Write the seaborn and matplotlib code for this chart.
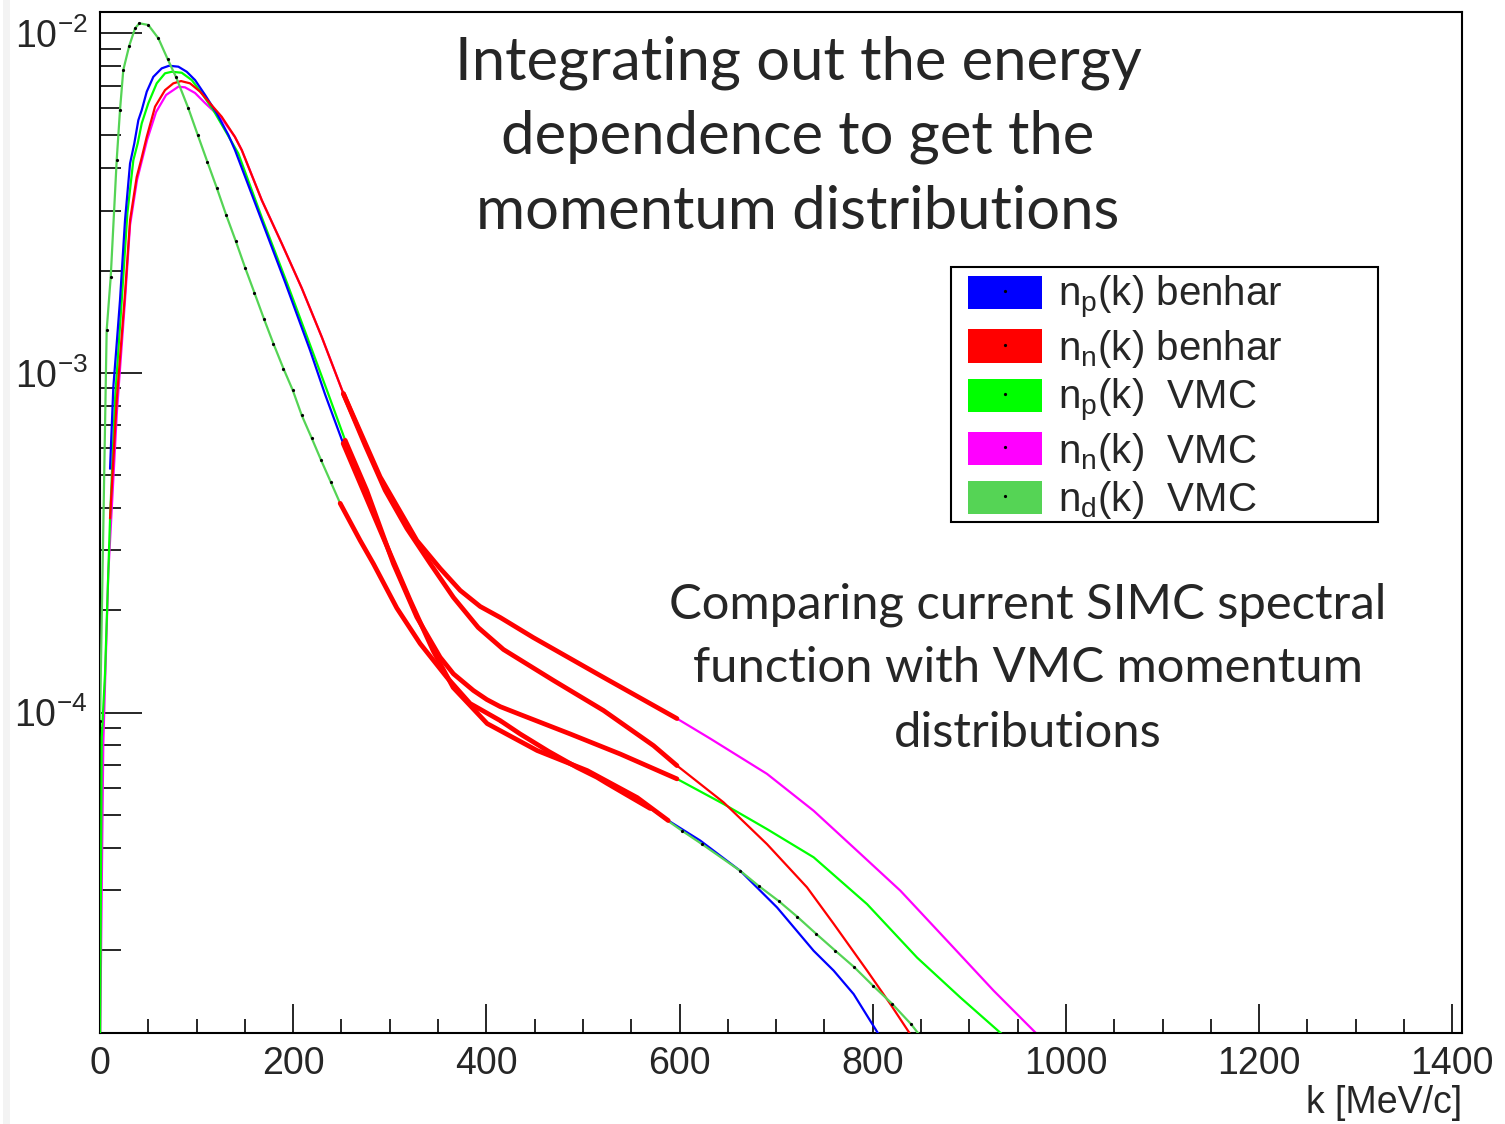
import numpy as np
import pandas as pd
import seaborn as sns
import matplotlib
matplotlib.use("Agg")
import matplotlib.pyplot as plt
from matplotlib.patches import Patch, Rectangle
from matplotlib.lines import Line2D
from matplotlib.legend_handler import HandlerTuple
from matplotlib.ticker import FixedLocator, NullFormatter, FixedFormatter

# ---------------- data ----------------
np_benhar_k = [10.4, 13.8, 17.3, 20.7, 25.9, 31.1, 35.5, 39.7, 43.2, 48.4, 55.2, 63.9, 71.5, 81.1, 89.8,
               98.4, 108.8, 120.9, 132.9, 139.8, 165.7, 191.6, 217.5, 233.0, 251.7, 269.3, 293.1, 321.1,
               344.9, 365.6, 400.8, 452.6, 504.4, 556.2, 588.3, 621.4, 662.9, 700.9, 738.8, 759.5, 780.2,
               806.1, 818.0]
np_benhar_y = [5.22e-4, 9.08e-4, 1.219e-3, 1.634e-3, 2.81e-3, 4.13e-3, 4.73e-3, 5.54e-3, 5.93e-3, 6.72e-3,
               7.43e-3, 7.87e-3, 8.01e-3, 7.96e-3, 7.69e-3, 7.27e-3, 6.57e-3, 5.80e-3, 5.01e-3, 4.52e-3,
               2.89e-3, 1.848e-3, 1.164e-3, 8.64e-4, 6.20e-4, 4.73e-4, 3.28e-4, 2.14e-4, 1.52e-4, 1.185e-4,
               9.28e-5, 7.73e-5, 6.75e-5, 5.62e-5, 4.81e-5, 4.20e-5, 3.42e-5, 2.67e-5, 1.99e-5, 1.74e-5,
               1.484e-5, 1.13e-5, 1.01e-5]

nn_benhar_k = [10.4, 17.3, 25.9, 31.1, 38.0, 42.5, 48.4, 57.0, 67.3, 75.9, 83.9, 93.2, 103.6, 113.9, 126.0,
               139.6, 146.8, 167.5, 188.2, 208.9, 229.6, 252.0, 274.5, 295.2, 317.7, 341.8, 365.9, 391.5,
               417.7, 469.5, 521.3, 573.1, 597.3, 645.6, 690.5, 731.9, 759.5, 794.1, 818.2, 838.9, 847.2]
nn_benhar_y = [3.73e-4, 8.30e-4, 1.711e-3, 2.81e-3, 3.77e-3, 4.22e-3, 4.95e-3, 6.07e-3, 6.79e-3, 7.11e-3,
               7.22e-3, 7.11e-3, 6.72e-3, 6.21e-3, 5.67e-3, 4.95e-3, 4.52e-3, 3.22e-3, 2.40e-3, 1.774e-3,
               1.274e-3, 8.68e-4, 6.12e-4, 4.51e-4, 3.48e-4, 2.747e-4, 2.182e-4, 1.780e-4, 1.533e-4,
               1.243e-4, 1.014e-4, 7.99e-5, 6.98e-5, 5.44e-5, 4.10e-5, 3.06e-5, 2.39e-5, 1.74e-5, 1.387e-5,
               1.13e-5, 1.0e-5]

np_vmc_k = [0, 1.8, 5.2, 10.4, 15.5, 22.5, 28.3, 34.5, 39.0, 43.2, 50.0, 58.7, 67.3, 74.3, 84.6, 95.0, 105.3,
            117.3, 131.2, 143.2, 167.8, 193.7, 219.6, 236.1, 253.8, 276.1, 303.8, 328.0, 352.1, 365.9, 386.6,
            400.5, 414.3, 435.0, 486.8, 538.6, 597.3, 645.6, 690.5, 738.8, 794.1, 845.9, 890.7, 933.9, 947.7]
np_vmc_y = [1.0e-5, 8.46e-5, 1.30e-4, 3.73e-4, 8.30e-4, 1.634e-3, 2.94e-3, 4.22e-3, 4.73e-3, 5.42e-3, 6.21e-3,
            7.11e-3, 7.61e-3, 7.69e-3, 7.64e-3, 7.27e-3, 6.65e-3, 5.93e-3, 5.07e-3, 4.42e-3, 2.85e-3,
            1.835e-3, 1.164e-3, 8.70e-4, 6.33e-4, 4.51e-4, 2.74e-4, 1.909e-4, 1.455e-4, 1.30e-4, 1.161e-4,
            1.092e-4, 1.041e-4, 9.87e-5, 8.65e-5, 7.55e-5, 6.38e-5, 5.38e-5, 4.54e-5, 3.75e-5, 2.73e-5,
            1.90e-5, 1.45e-5, 1.13e-5, 1.02e-5]

nn_vmc_k = [0, 3.4, 8.6, 17.6, 25.9, 31.1, 38.3, 48.7, 58.0, 68.4, 81.1, 88.0, 98.4, 108.8, 126.0, 139.6,
            146.8, 167.5, 188.2, 208.9, 229.6, 252.0, 290.0, 328.0, 352.1, 372.9, 393.6, 414.3, 448.5, 517.9,
            597.3, 631.8, 690.5, 738.8, 787.2, 828.6, 880.4, 925.2, 970.2, 978.8]
nn_vmc_y = [1.0e-5, 8.1e-5, 2.57e-4, 7.76e-4, 1.634e-3, 2.72e-3, 3.69e-3, 4.84e-3, 5.85e-3, 6.57e-3, 6.95e-3,
            6.92e-3, 6.66e-3, 6.22e-3, 5.60e-3, 4.95e-3, 4.52e-3, 3.22e-3, 2.40e-3, 1.774e-3, 1.274e-3,
            8.68e-4, 4.94e-4, 3.21e-4, 2.656e-4, 2.288e-4, 2.052e-4, 1.905e-4, 1.663e-4, 1.285e-4, 9.60e-5,
            8.38e-5, 6.60e-5, 5.14e-5, 3.84e-5, 2.99e-5, 2.08e-5, 1.518e-5, 1.13e-5, 1.0e-5]

nd_vmc_k = [0, 6.9, 11.1, 17.3, 20.7, 24.1, 30.3, 36.3, 40.7, 50.0, 60.4, 70.1, 78.7, 91.5, 101.2, 111.1,
            120.9, 130.5, 140.5, 150.2, 159.8, 169.9, 179.5, 189.9, 199.6, 208.9, 219.3, 228.9, 238.9, 248.6,
            269.3, 283.1, 307.3, 331.4, 359.1, 383.2, 414.3, 435.0, 464.3, 493.7, 514.4, 524.8, 545.5, 569.6,
            602.5, 623.2, 662.9, 681.8, 702.5, 721.6, 741.6, 761.3, 780.9, 800.3, 820.0, 839.7, 860.0]
nd_vmc_y = [9.47e-5, 1.334e-3, 1.915e-3, 4.23e-3, 5.93e-3, 7.78e-3, 9.18e-3, 1.032e-2, 1.068e-2, 1.056e-2,
            9.65e-3, 8.37e-3, 7.42e-3, 6.0e-3, 5.01e-3, 4.18e-3, 3.50e-3, 2.92e-3, 2.444e-3, 2.04e-3,
            1.722e-3, 1.437e-3, 1.219e-3, 1.029e-3, 8.88e-4, 7.49e-4, 6.41e-4, 5.53e-4, 4.77e-4, 4.13e-4,
            3.21e-4, 2.74e-4, 2.03e-4, 1.596e-4, 1.27e-4, 1.063e-4, 9.47e-5, 8.65e-5, 7.69e-5, 6.90e-5,
            6.45e-5, 6.19e-5, 5.72e-5, 5.22e-5, 4.49e-5, 4.10e-5, 3.42e-5, 3.09e-5, 2.79e-5, 2.51e-5,
            2.23e-5, 1.99e-5, 1.78e-5, 1.57e-5, 1.39e-5, 1.21e-5, 1.02e-5]

series_names = ["np_benhar", "nn_benhar", "np_vmc", "nn_vmc", "nd_vmc"]
legend_labels = [r"$\mathregular{n_p}$(k) benhar", r"$\mathregular{n_n}$(k) benhar",
                 r"$\mathregular{n_p}$(k)  VMC", r"$\mathregular{n_n}$(k)  VMC",
                 r"$\mathregular{n_d}$(k)  VMC"]
x_ticks = [0, 200, 400, 600, 800, 1000, 1200, 1400]
y_ticks = [1e-4, 1e-3, 1e-2]
y_ticklabels = [r"$\mathregular{10^{-4}}$", r"$\mathregular{10^{-3}}$", r"$\mathregular{10^{-2}}$"]
hand_range = (245, 600)   # k-range highlighted by the hand-drawn red strokes

title_lines = ["Integrating out the energy", "dependence to get the", "momentum distributions"]
note_lines = ["Comparing current SIMC spectral", "function with VMC momentum", "distributions"]

# ---------------- build table ----------------
ks = [np_benhar_k, nn_benhar_k, np_vmc_k, nn_vmc_k, nd_vmc_k]
ys = [np_benhar_y, nn_benhar_y, np_vmc_y, nn_vmc_y, nd_vmc_y]
frames = []
for name, k, y in zip(series_names, ks, ys):
    frames.append(pd.DataFrame({"k": k, "n": y, "series": name}))
df = pd.concat(frames, ignore_index=True)

colors = {"np_benhar": "#0000ff", "nn_benhar": "#ff0000", "np_vmc": "#00ff00",
          "nn_vmc": "#ff00ff", "nd_vmc": "#55d455"}

# ---------------- figure ----------------
sns.set_style("ticks")
plt.rcParams['font.family'] = ['Liberation Sans', 'DejaVu Sans']
plt.rcParams['mathtext.fontset'] = 'custom'
plt.rcParams['mathtext.rm'] = 'Liberation Sans'
plt.rcParams['mathtext.it'] = 'Liberation Sans:italic'
plt.rcParams['mathtext.bf'] = 'Liberation Sans:bold'

W, H = 1505, 1124
fig = plt.figure(figsize=(W / 100, H / 100), dpi=100)
fig.patch.set_facecolor("white")
fig.patches.append(Rectangle((3 / W, 0), 7 / W, 1, transform=fig.transFigure,
                             facecolor="#f3f3f3", edgecolor="none", zorder=0))
ax = fig.add_axes([100 / W, 91 / H, 1362 / W, 1021 / H])
ax.set_facecolor("white")

draw_order = ["nn_vmc", "np_vmc", "np_benhar", "nn_benhar", "nd_vmc"]
for i, name in enumerate(draw_order):
    sub = df[df.series == name]
    kw = dict(color=colors[name], linewidth=1.6, sort=False, estimator=None, ax=ax, legend=False,
              zorder=2 + i)
    if name == "nd_vmc":
        kw.update(marker="o", markersize=2.3, markerfacecolor="black", markeredgecolor="black",
                  markeredgewidth=0)
    sns.lineplot(data=sub, x="k", y="n", **kw)

# hand-drawn red strokes over the 250-600 MeV/c region
for name in series_names:
    sub = df[(df.series == name) & (df.k >= hand_range[0]) & (df.k <= hand_range[1])]
    sns.lineplot(data=sub, x="k", y="n", color="#ff0000", linewidth=3.4, sort=False,
                 estimator=None, ax=ax, legend=False, zorder=10)

ax.set_yscale("log")
ax.set_xlim(0, 1410)
ax.set_ylim(1.14e-5, 1.153e-2)
ax.set_xlabel("")
ax.set_ylabel("")

ax.xaxis.set_major_locator(FixedLocator(x_ticks))
ax.xaxis.set_minor_locator(FixedLocator([v for v in range(0, 1411, 50) if v % 200]))
ax.set_xticklabels([str(v) for v in x_ticks])
minor_y = [m * 10.0 ** e for e in (-5, -4, -3) for m in range(2, 10)]
ax.yaxis.set_major_locator(FixedLocator(y_ticks))
ax.yaxis.set_minor_locator(FixedLocator(minor_y))
ax.yaxis.set_major_formatter(FixedFormatter(y_ticklabels))
ax.yaxis.set_minor_formatter(NullFormatter())

ax.tick_params(axis="x", which="major", direction="in", length=21, width=1.4, labelsize=27, pad=9,
               top=False)
ax.tick_params(axis="x", which="minor", direction="in", length=10, width=1.4, top=False)
ax.tick_params(axis="y", which="major", direction="in", length=30, width=1.4, labelsize=27, pad=9,
               right=False)
ax.tick_params(axis="y", which="minor", direction="in", length=15, width=1.4, right=False)
for s in ax.spines.values():
    s.set_visible(True)
    s.set_linewidth(1.5)
    s.set_color("black")

fig.text(1462 / W, 1 - 1103 / H, "k [MeV/c]", ha="right", va="center", fontsize=27)

# legend (frame drawn separately)
handles = [(Patch(facecolor=colors[n], edgecolor="none"),
            Line2D([0], [0], ls="none", marker="o", ms=1.3, color="black")) for n in series_names]
leg = ax.legend(handles, legend_labels, handler_map={tuple: HandlerTuple(ndivide=1, pad=0)},
                loc="upper left", bbox_to_anchor=(968 / W, 1 - 274 / H), bbox_transform=fig.transFigure,
                frameon=False, borderpad=0, borderaxespad=0, fontsize=29, handlelength=1.84,
                handleheight=0.89, handletextpad=0.4, labelspacing=0.17)
fig.patches.append(Rectangle((951 / W, 1 - 522 / H), 427 / W, 255 / H, transform=fig.transFigure,
                             facecolor="none", edgecolor="black", linewidth=1.5, zorder=20))

tfont = ["Lato", "DejaVu Sans"]
for line, yy in zip(title_lines, [63, 137, 212]):
    fig.text(798 / W, 1 - yy / H, line, ha="center", va="center", fontsize=43, family=tfont)
for line, yy in zip(note_lines, [605, 668, 733]):
    fig.text(1028 / W, 1 - yy / H, line, ha="center", va="center", fontsize=35.3, family=tfont)

fig.savefig("out.png", dpi=100)
